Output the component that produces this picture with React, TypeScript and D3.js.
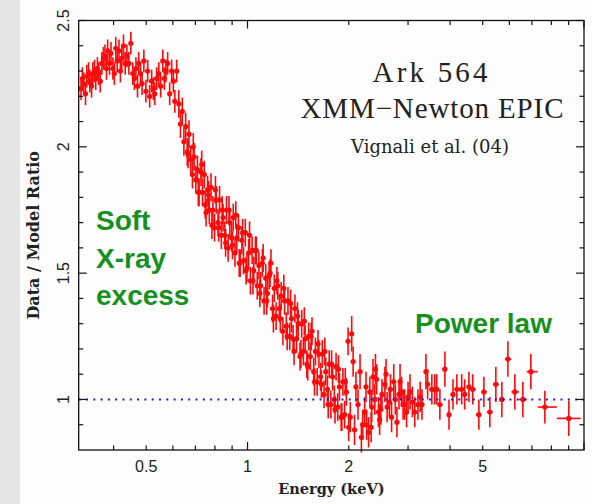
import React from "react";
import * as d3 from "d3";

// ---------- data ----------
const lowEnergy = [0.320,0.323,0.326,0.330,0.333,0.337,0.340,0.344,0.347,0.351,0.354,0.358,0.361,0.365,0.369,0.373,0.377,0.381,0.384,0.389,0.393,0.398,0.402,0.406,0.410,0.415,0.419,0.423,0.428,0.433,0.438,0.444,0.450,0.456,0.461,0.466,0.471,0.475,0.481,0.486,0.492,0.499,0.505,0.512,0.519,0.525,0.530,0.537,0.545,0.552,0.560,0.566,0.572,0.579,0.587,0.595,0.602,0.608,0.616];
const lowRatio = [2.23,2.27,2.25,2.21,2.28,2.29,2.26,2.24,2.29,2.30,2.27,2.31,2.29,2.26,2.33,2.35,2.36,2.31,2.38,2.33,2.37,2.31,2.29,2.39,2.34,2.38,2.30,2.35,2.40,2.33,2.36,2.33,2.41,2.29,2.27,2.31,2.24,2.33,2.29,2.25,2.34,2.22,2.30,2.20,2.26,2.23,2.21,2.27,2.29,2.24,2.34,2.27,2.30,2.33,2.21,2.30,2.26,2.18,2.30];

const dropEnergy = [0.625,0.632,0.640,0.647,0.655,0.662,0.670,0.678,0.686,0.694,0.702,0.710,0.718,0.727,0.735,0.744,0.753,0.761,0.770,0.779,0.789,0.798,0.807,0.817,0.826,0.836,0.846,0.856,0.866,0.876,0.886,0.897,0.907,0.918,0.929,0.940,0.951,0.962,0.973,0.985,0.996,1.008,1.020,1.032,1.044,1.056,1.069,1.081,1.094,1.107,1.120,1.133,1.146,1.160,1.174,1.187,1.201,1.216,1.230,1.244,1.259,1.274,1.289,1.304,1.319,1.335,1.351,1.366,1.383,1.399,1.415,1.432,1.449,1.466,1.483,1.501,1.519,1.537,1.555,1.573,1.592,1.611,1.630,1.649,1.668,1.688,1.708,1.728,1.749,1.769,1.790,1.811,1.833,1.854,1.876,1.898,1.921,1.944,1.967,1.990];
const dropRatio = [2.17,2.09,2.14,2.02,2.08,1.98,2.05,1.95,1.89,1.96,1.87,1.91,1.82,1.90,1.82,1.89,1.74,1.83,1.75,1.84,1.75,1.68,1.79,1.70,1.79,1.65,1.72,1.65,1.75,1.60,1.70,1.64,1.72,1.58,1.64,1.68,1.54,1.63,1.55,1.66,1.52,1.58,1.47,1.59,1.51,1.59,1.45,1.53,1.45,1.54,1.39,1.48,1.42,1.49,1.54,1.36,1.44,1.33,1.45,1.36,1.41,1.27,1.39,1.29,1.39,1.25,1.32,1.24,1.36,1.24,1.30,1.17,1.30,1.19,1.24,1.14,1.25,1.17,1.27,1.11,1.19,1.07,1.18,1.09,1.18,1.02,1.11,1.04,1.14,0.98,1.09,1.00,1.13,0.97,1.05,0.93,1.07,0.94,1.03,1.23];

const dropEnergy2 = [0.666,0.690,0.714,0.731,0.749,0.766,0.784,0.803,0.821,0.841,0.861,0.881,0.902,0.923,0.945,0.967,0.990,1.014,1.038,1.062,1.088,1.113,1.140,1.167,1.194,1.223,1.252,1.282,1.312,1.343,1.375,1.408,1.441,1.475,1.510,1.546,1.582,1.620,1.658,1.697,1.737,1.778,1.820,1.863,1.907,1.952,1.998];
const dropRatio2 = [1.97,2.00,1.82,1.93,1.77,1.81,1.69,1.83,1.68,1.75,1.62,1.75,1.61,1.73,1.54,1.66,1.51,1.65,1.47,1.59,1.42,1.56,1.39,1.50,1.32,1.47,1.32,1.44,1.25,1.38,1.19,1.33,1.18,1.31,1.13,1.25,1.07,1.22,1.06,1.19,0.98,1.14,0.96,1.12,0.93,1.07,0.89];

const highEnergy = [2.02,2.04,2.06,2.08,2.10,2.13,2.16,2.18,2.20,2.23,2.25,2.26,2.29,2.31,2.33,2.34,2.36,2.39,2.40,2.42,2.45,2.47,2.49,2.51,2.56,2.58,2.60,2.64,2.66,2.68,2.72,2.75,2.78,2.82,2.84,2.87,2.90,2.93,2.97,3.00,3.04,3.09,3.14,3.21,3.26,3.30,3.39,3.43,3.53,3.60,3.65,3.73,3.86,3.97,4.08,4.19,4.33,4.42,4.55,4.67,4.87,5.04,5.25,5.47,5.70,5.94,6.23,6.58,6.95,7.65,9.01];
const highRatio = [0.93,1.26,1.15,0.88,1.05,0.98,1.11,0.85,0.90,0.95,1.05,0.90,0.87,1.03,0.89,0.97,1.09,1.00,1.12,1.08,0.95,0.92,0.96,1.02,1.06,1.10,0.97,0.99,1.04,0.93,1.07,1.00,0.91,1.02,1.07,1.03,0.98,0.98,0.95,1.01,1.03,0.99,0.95,0.98,1.01,0.98,1.11,1.06,1.04,1.04,1.04,0.98,1.12,0.94,1.02,1.04,1.04,1.02,1.05,1.04,0.94,1.03,0.95,1.06,1.00,1.16,1.03,1.00,1.11,0.97,0.925];
const highError = [0.06,0.07,0.06,0.06,0.06,0.06,0.07,0.06,0.06,0.06,0.06,0.06,0.06,0.06,0.06,0.06,0.07,0.06,0.06,0.06,0.06,0.06,0.06,0.06,0.07,0.06,0.06,0.06,0.06,0.06,0.07,0.06,0.06,0.06,0.07,0.06,0.06,0.06,0.06,0.06,0.07,0.06,0.06,0.06,0.06,0.06,0.07,0.06,0.06,0.06,0.06,0.06,0.07,0.06,0.06,0.06,0.06,0.06,0.06,0.06,0.06,0.06,0.06,0.07,0.07,0.07,0.07,0.07,0.07,0.065,0.07];

const lowError = 0.045;
const dropError = 0.055;

const xMajorTicks = [1, 10];
const xMinorTicks = [0.4, 0.5, 0.6, 0.7, 0.8, 0.9, 2, 3, 4, 5, 6, 7, 8, 9];
const xTickLabels = [0.5, 1, 2, 5];
const yMajorTicks = [1, 1.5, 2, 2.5];
const yMinorTicks = [0.9, 1.1, 1.2, 1.3, 1.4, 1.6, 1.7, 1.8, 1.9, 2.1, 2.2, 2.3, 2.4];
const yTickLabels = [1, 1.5, 2, 2.5];

// ---------- layout ----------
const W = 593, H = 504;
const L = 78.7, R = 584, T = 20.5, B = 450;

export default function App() {
  const x = d3.scaleLog().domain([0.315, 10]).range([L, R]);
  const y = d3.scaleLinear().domain([0.8, 2.5]).range([B, T]);

  const pts: { e: number; r: number; err: number }[] = [];
  lowEnergy.forEach((e, i) => pts.push({ e, r: lowRatio[i], err: lowError }));
  dropEnergy.forEach((e, i) => pts.push({ e, r: dropRatio[i], err: dropError }));
  dropEnergy2.forEach((e, i) => pts.push({ e, r: dropRatio2[i], err: dropError }));
  highEnergy.forEach((e, i) => pts.push({ e, r: highRatio[i], err: highError[i] }));
  pts.sort((a, b) => a.e - b.e);

  // bin edges: geometric midpoints between neighbours
  const bins = pts.map((p, i) => {
    const prev = pts[i - 1], next = pts[i + 1];
    const lo = prev ? Math.sqrt(prev.e * p.e) : p.e * p.e / Math.sqrt(p.e * next.e);
    const hi = next ? Math.sqrt(next.e * p.e) : p.e * p.e / Math.sqrt(p.e * prev.e);
    return { lo, hi };
  });

  const red = "#ff0a0a";
  const green = "#17901f";
  const major = 8, minor = 4.5;

  return (
    <svg width={W} height={H} style={{ position: "absolute", left: 0, top: 0, background: "#fdfdfe" }}>
      <rect x={0} y={0} width={20} height={H} fill="#e6e6e6" />

      {/* data */}
      <g>
        {pts.map((p, i) => (
          <g key={i}>
            <line x1={x(p.e)} x2={x(p.e)} y1={y(p.r - p.err)} y2={y(p.r + p.err)} stroke={red} strokeWidth={1.6} />
            <line x1={Math.max(L, x(bins[i].lo))} x2={Math.min(R, x(bins[i].hi))} y1={y(p.r)} y2={y(p.r)} stroke={red} strokeWidth={1.6} />
            <circle cx={x(p.e)} cy={y(p.r)} r={2.6} fill={red} />
          </g>
        ))}
      </g>

      {/* model line */}
      <line x1={L} x2={R} y1={y(1)} y2={y(1)} stroke="#1c1cd0" strokeWidth={2} strokeDasharray="2 5.3" />

      {/* frame */}
      <rect x={L} y={T} width={R - L} height={B - T} fill="none" stroke="#111" strokeWidth={1.3} />

      {/* ticks */}
      <g stroke="#111" strokeWidth={1.2}>
        {xMajorTicks.concat(xMinorTicks).map((v) => {
          const len = xMajorTicks.includes(v) ? major : minor;
          return (
            <g key={"x" + v}>
              <line x1={x(v)} x2={x(v)} y1={B} y2={B - len} />
              <line x1={x(v)} x2={x(v)} y1={T} y2={T + len} />
            </g>
          );
        })}
        {yMajorTicks.concat(yMinorTicks).map((v) => {
          const len = yMajorTicks.includes(v) ? major : minor;
          return (
            <g key={"y" + v}>
              <line x1={L} x2={L + len} y1={y(v)} y2={y(v)} />
              <line x1={R} x2={R - len} y1={y(v)} y2={y(v)} />
            </g>
          );
        })}
      </g>

      {/* tick labels */}
      <g fontFamily="'Liberation Sans', Arial, sans-serif" fontSize={16} fill="#222">
        {xTickLabels.map((v) => (
          <text key={"xl" + v} x={x(v)} y={471.5} textAnchor="middle">{String(v)}</text>
        ))}
        {yTickLabels.map((v) => (
          <text key={"yl" + v} transform={`translate(68.5,${y(v)}) rotate(-90)`} textAnchor="middle">{String(v)}</text>
        ))}
      </g>

      {/* axis titles */}
      <text x={(L + R) / 2} y={494} textAnchor="middle" fontFamily="'DejaVu Serif', serif" fontWeight="bold" fontSize={14.5} fill="#222">Energy (keV)</text>
      <text transform={`translate(39,${(T + B) / 2}) rotate(-90)`} textAnchor="middle" fontFamily="'DejaVu Serif', serif" fontWeight="bold" fontSize={16} fill="#222">Data / Model Ratio</text>

      {/* annotations */}
      <g fontFamily="'Liberation Serif', serif" fill="#222" textAnchor="middle">
        <text x={430} y={82} fontSize={29} textLength={115} lengthAdjust="spacing">Ark 564</text>
        <text x={432} y={118} fontSize={29} textLength={263} lengthAdjust="spacing">XMM−Newton EPIC</text>
      </g>
      <text x={430} y={153} textAnchor="middle" fontFamily="'DejaVu Serif', serif" fontSize={18} fill="#222">Vignali et al. (04)</text>

      <g fontFamily="'Liberation Sans', Arial, sans-serif" fontWeight="bold" fontSize={28} fill={green}>
        <text x={96} y={230}>Soft</text>
        <text x={96} y={268}>X-ray</text>
        <text x={96} y={305}>excess</text>
        <text x={415} y={333}>Power law</text>
      </g>
    </svg>
  );
}
